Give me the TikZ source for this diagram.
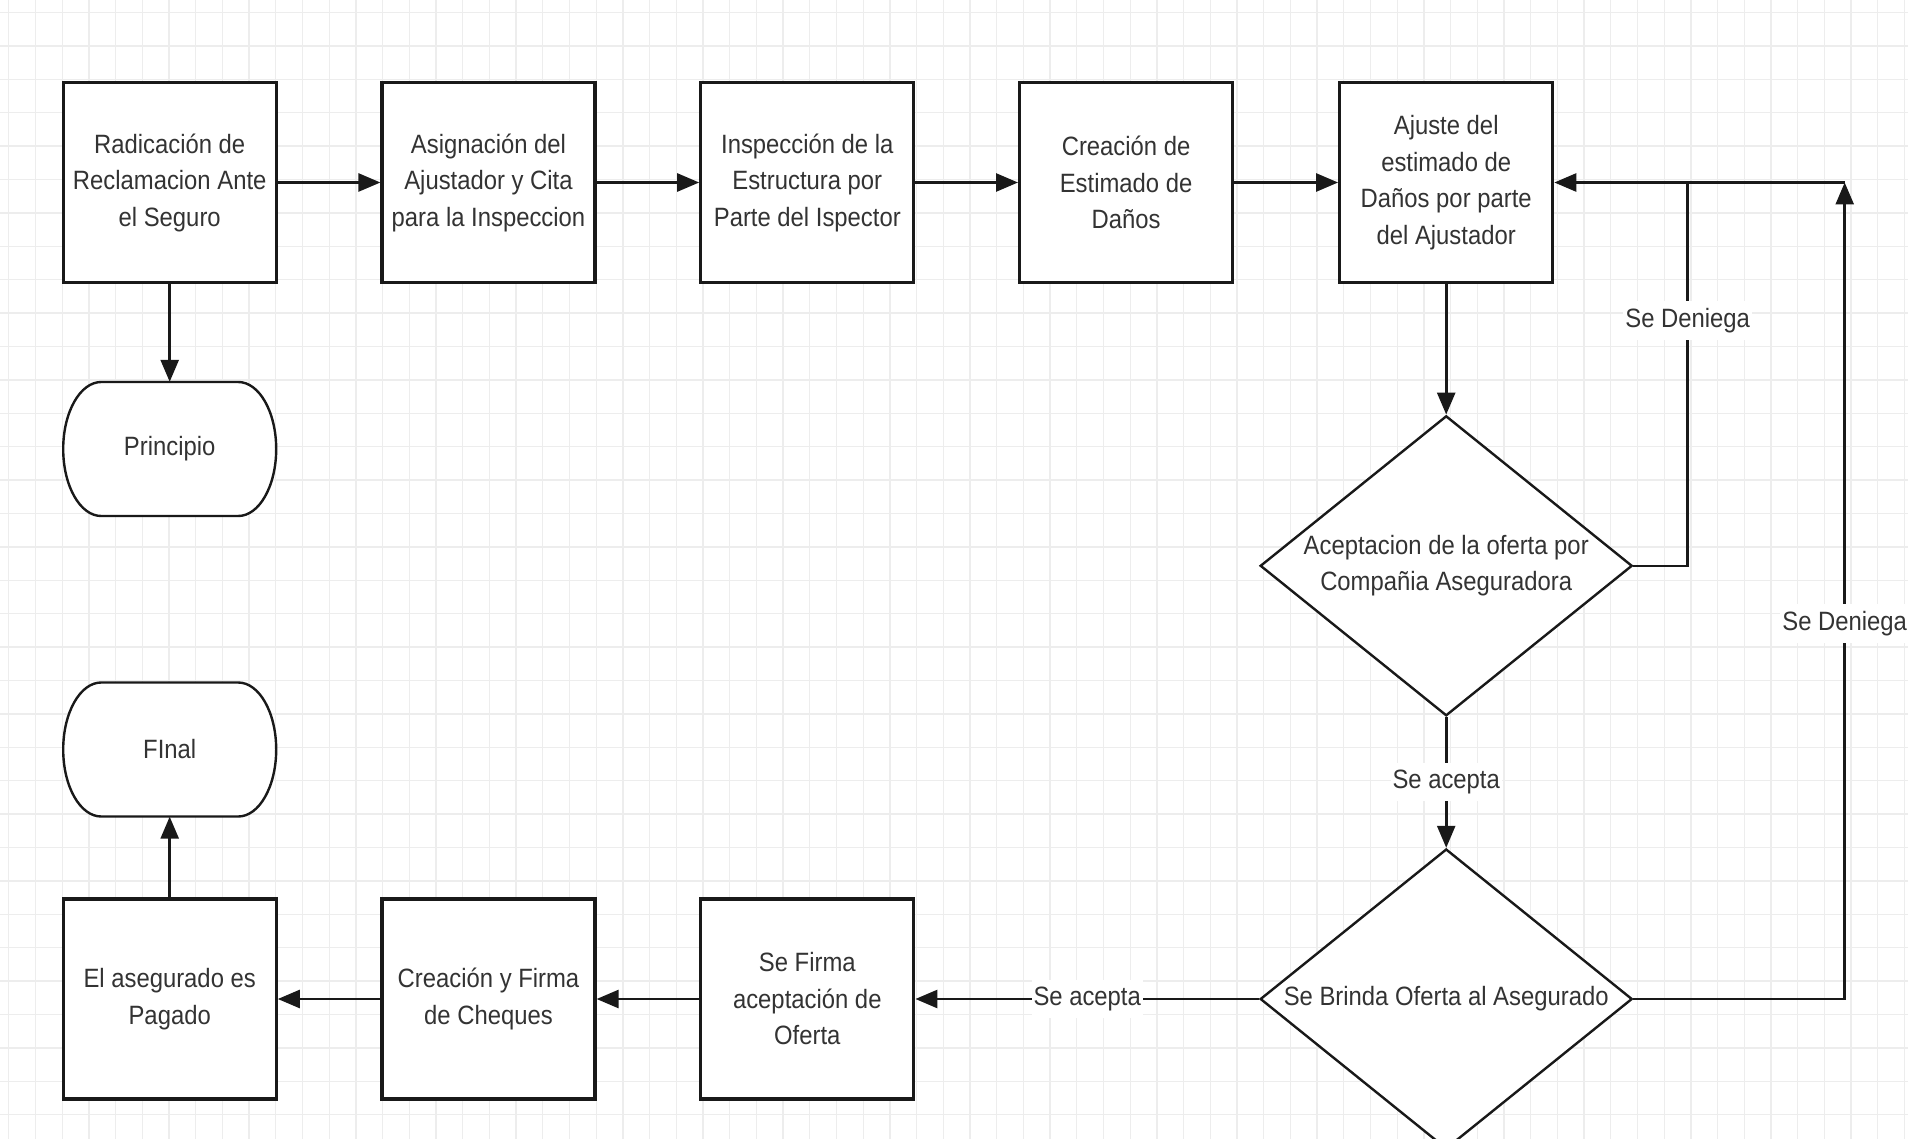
\documentclass[tikz,border=0pt]{standalone}
\usepackage{fontspec}
\setmainfont{Liberation Sans}[FakeStretch=0.9]
\usetikzlibrary{arrows.meta,shapes.geometric}
% terminal outline: centre (x,y) in picture units (y grows downwards)
\newcommand\mytermpath[2]{%
  \filldraw[termline] (#1-68.5,#2-67) -- (#1+68.5,#2-67)
    .. controls (#1+89.5,#2-67) and (#1+106.5,#2-37) .. (#1+106.5,#2)
    .. controls (#1+106.5,#2+37) and (#1+89.5,#2+67) .. (#1+68.5,#2+67)
    -- (#1-68.5,#2+67)
    .. controls (#1-89.5,#2+67) and (#1-106.5,#2+37) .. (#1-106.5,#2)
    .. controls (#1-106.5,#2-37) and (#1-89.5,#2-67) .. (#1-68.5,#2-67)
    -- cycle;}
\begin{document}
\begin{tikzpicture}[x=1pt,y=-1pt,
  every node/.style={font=\fontsize{26.5}{36.5}\selectfont, text=black!80},
  proc/.style={draw=black!90, line width=3.2pt, fill=white, minimum width=213pt,
    minimum height=200pt, inner sep=0pt, align=center},
  term/.style={minimum width=213pt, minimum height=134pt, inner sep=0pt, align=center},
  termline/.style={draw=black!90, fill=white, line width=2.4pt},
  dec/.style={shape=diamond, draw=black!90, fill=white, line width=2.4pt, aspect=1.24,
    minimum width=372pt, minimum height=300pt, inner sep=0pt, align=center},
  conn/.style={draw=black!90, line width=2.6pt},
  arr/.style={conn, -{Triangle[length=22pt,width=18pt]}},
  lbl/.style={fill=white, inner xsep=2pt, inner ysep=7pt},
  gridline/.style={draw=black!7, line width=1.3pt}
]
\useasboundingbox (0,0) rectangle (1908,1139);
\clip (0,0) rectangle (1908,1139);
\fill[white] (0,0) rectangle (1908,1139);
% background grid
\foreach \i in {0,...,71} \draw[gridline] (8.8+26.7*\i,0) -- (8.8+26.7*\i,1139);
\foreach \j in {0,...,33} \draw[gridline] (0,12.5+33.4*\j) -- (1908,12.5+33.4*\j);

% top row
\node[proc] (B1) at (169.7,182.5) {Radicación de\\Reclamacion Ante\\el Seguro};
\node[proc] (B2) at (488.5,182.5) {Asignación del\\Ajustador y Cita\\para la Inspeccion};
\node[proc] (B3) at (807.3,182.5) {Inspección de la\\Estructura por\\Parte del Ispector};
\node[proc] (B4) at (1126.1,182.5) {Creación de\\Estimado de\\Daños};
\node[proc] (B5) at (1446.2,182.5) {Ajuste del\\estimado de\\Daños por parte\\del Ajustador};

% terminals
\mytermpath{169.7}{449}
\node[term] (P) at (169.7,449) {Principio};
\mytermpath{169.7}{749.5}
\node[term] (F) at (169.7,749.5) {FInal};

% decisions
\node[dec] (D1) at (1446.2,565.8) {Aceptacion de la oferta por\\Compañia Aseguradora};
\node[dec] (D2) at (1446.2,999) {Se Brinda Oferta al Asegurado};

% bottom row
\node[proc] (B6) at (169.7,999) {El asegurado es\\Pagado};
\node[proc] (B7) at (488.5,999) {Creación y Firma\\de Cheques};
\node[proc] (B8) at (807.3,999) {Se Firma\\aceptación de\\Oferta};

\coordinate (c1) at (1687.7,182.5);
\coordinate (c2) at (1844.7,182.5);

% connectors
\draw[arr] (B1) -- (B2);
\draw[arr] (B2) -- (B3);
\draw[arr] (B3) -- (B4);
\draw[arr] (B4) -- (B5);
\draw[arr] (B1) -- (P);
\draw[arr] (B5) -- (D1);
\draw[arr] (D1) -- node[lbl]{Se acepta} (D2);
\draw[arr] (D2) -- node[lbl]{Se acepta} (B8);
\draw[arr] (B8) -- (B7);
\draw[arr] (B7) -- (B6);
\draw[arr] (B6) -- (F);
\draw[conn] (D1.east) -| node[lbl,pos=0.82]{Se Deniega} (c1);
\draw[arr] (c2) -- (B5.east);
\draw[arr] (D2.east) -| node[lbl,pos=0.73]{Se Deniega} (c2);
\end{tikzpicture}
\end{document}
